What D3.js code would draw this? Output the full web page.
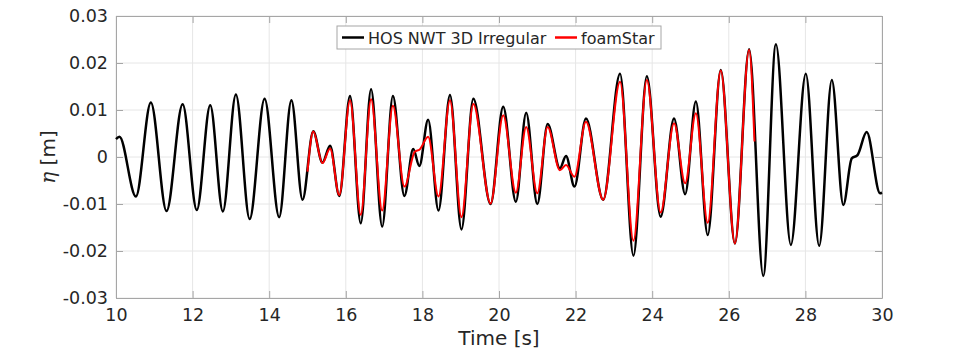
<!DOCTYPE html>
<html lang="en">
  <head>
    <meta charset="utf-8">
    <title>HOS NWT vs foamStar</title>
    <script type="text/javascript" src="https://cdnjs.cloudflare.com/ajax/libs/d3/7.8.5/d3.min.js"></script>
    <style>
      body { margin: 0; background: #fff; }
      text { font-family: "DejaVu Sans", sans-serif; fill: #262626; }
    </style>
  </head>
  <body>
    <div id="chartDiv"></div>
    <script>
      // HOS NWT 3D Irregular: extrema (time [s], eta [m])
      var hosTime = [10.0, 10.09, 10.52, 10.91, 11.32, 11.74, 12.11, 12.46, 12.79, 13.13, 13.49, 13.88, 14.26, 14.58,
                     14.87, 15.15, 15.39, 15.59, 15.83, 16.11, 16.39, 16.66, 16.95, 17.23, 17.53, 17.76, 17.92, 18.15,
                     18.42, 18.72, 19.02, 19.33, 19.78, 20.11, 20.44, 20.71, 21.0, 21.27, 21.59, 21.75, 21.97, 22.27,
                     22.72, 23.16, 23.51, 23.86, 24.22, 24.57, 24.86, 25.14, 25.45, 25.79, 26.16, 26.53, 26.9, 27.23,
                     27.62, 28.01, 28.36, 28.69, 28.99, 29.21, 29.36, 29.6, 29.95, 30.0];
      var hosEta = [0.0038, 0.0043, -0.0084, 0.0116, -0.0115, 0.0112, -0.0113, 0.011, -0.0116, 0.0133, -0.0132, 0.0124, -0.0128, 0.0121,
                    -0.0091, 0.0055, -0.0012, 0.0024, -0.0083, 0.013, -0.0141, 0.0144, -0.0148, 0.013, -0.0083, 0.0017, -0.0019, 0.0079,
                    -0.0114, 0.0132, -0.0154, 0.0124, -0.01, 0.0107, -0.0095, 0.0094, -0.01, 0.007, -0.0024, 0.0002, -0.0063, 0.0082,
                    -0.0091, 0.0177, -0.021, 0.0172, -0.0127, 0.0082, -0.0079, 0.0118, -0.0166, 0.0185, -0.0184, 0.0229, -0.0253, 0.024,
                    -0.0187, 0.0177, -0.0189, 0.0164, -0.0102, -0.0003, 0.0004, 0.0053, -0.0077, -0.0076];

      // foamStar
      var foamTime = [15.0, 15.15, 15.39, 15.59, 15.83, 16.11, 16.39, 16.66, 16.95, 17.23, 17.53, 17.8, 17.93, 18.15,
                      18.42, 18.72, 19.02, 19.33, 19.78, 20.11, 20.44, 20.71, 21.0, 21.27, 21.59, 21.75, 21.97, 22.27,
                      22.72, 23.16, 23.51, 23.86, 24.22, 24.57, 24.86, 25.14, 25.45, 25.79, 26.16, 26.53, 26.67];
      var foamEta = [-0.0031, 0.0054, -0.0013, 0.0018, -0.0081, 0.0121, -0.0123, 0.0123, -0.0114, 0.0109, -0.0063, 0.0011, 0.0016, 0.0043,
                     -0.0084, 0.0121, -0.0128, 0.0113, -0.0099, 0.0089, -0.0076, 0.0064, -0.0077, 0.0064, -0.0028, -0.0017, -0.0042, 0.0075,
                     -0.0091, 0.016, -0.0178, 0.0164, -0.0118, 0.0072, -0.0056, 0.0093, -0.014, 0.0184, -0.0184, 0.0228, 0.0033];

      var xTicks = [10, 12, 14, 16, 18, 20, 22, 24, 26, 28, 30];
      var yTicks = [-0.03, -0.02, -0.01, 0, 0.01, 0.02, 0.03];
      var seriesNames = ["HOS NWT 3D Irregular", "foamStar"];
      var seriesColors = ["#000000", "#ff0000"];

      var chartWd = 976, chartHt = 350;
      var padL = 116, padR = 882, padT = 16, padB = 298;

      var xScale = d3.scaleLinear().domain([10, 30]).range([padL, padR]);
      var yScale = d3.scaleLinear().domain([-0.03, 0.03]).range([padB, padT]);

      var svg = d3.select("#chartDiv")
          .append("svg")
          .attr("width", chartWd)
          .attr("height", chartHt);

      // grid
      svg.append("g")
         .selectAll("line")
         .data(xTicks)
         .enter()
         .append("line")
         .attr("x1", function(d) { return xScale(d); })
         .attr("x2", function(d) { return xScale(d); })
         .attr("y1", padT).attr("y2", padB)
         .attr("stroke", "#e6e6e6").attr("stroke-width", 1);

      svg.append("g")
         .selectAll("line")
         .data(yTicks)
         .enter()
         .append("line")
         .attr("y1", function(d) { return yScale(d); })
         .attr("y2", function(d) { return yScale(d); })
         .attr("x1", padL).attr("x2", padR)
         .attr("stroke", "#e6e6e6").attr("stroke-width", 1);

      var fmt = function(d) { return d === 0 ? "0" : d3.format(".2f")(d).replace("−", "-"); };

      var xAxis = d3.axisBottom(xScale).tickValues(xTicks).tickSizeInner(-7).tickSizeOuter(0).tickPadding(11);
      var xAxisTop = d3.axisTop(xScale).tickValues(xTicks).tickSizeInner(-7).tickSizeOuter(0).tickFormat("");
      var yAxis = d3.axisLeft(yScale).tickValues(yTicks).tickSizeInner(-7).tickSizeOuter(0).tickPadding(8).tickFormat(fmt);
      var yAxisRight = d3.axisRight(yScale).tickValues(yTicks).tickSizeInner(-7).tickSizeOuter(0).tickFormat("");

      var axes = [
        [xAxis, "translate(0," + padB + ")"],
        [xAxisTop, "translate(0," + padT + ")"],
        [yAxis, "translate(" + padL + ",0)"],
        [yAxisRight, "translate(" + padR + ",0)"]
      ];
      axes.forEach(function(a) {
        var g = svg.append("g").attr("transform", a[1]).call(a[0]);
        g.select(".domain").attr("stroke", "#a6a6a6");
        g.selectAll(".tick line").attr("stroke", "#a6a6a6");
        g.selectAll(".tick text")
         .attr("font-family", "DejaVu Sans, sans-serif")
         .attr("font-size", "17.5px")
         .attr("fill", "#262626");
      });

      // series
      var line = d3.line()
          .x(function(d) { return xScale(d[0]); })
          .y(function(d) { return yScale(d[1]); })
          .curve(d3.curveMonotoneX);

      var hosData = hosTime.map(function(t, i) { return [t, hosEta[i]]; });
      var foamData = foamTime.map(function(t, i) { return [t, foamEta[i]]; });

      svg.append("path")
         .datum(hosData)
         .attr("d", line)
         .attr("fill", "none")
         .attr("stroke", seriesColors[0])
         .attr("stroke-width", 2.5);

      svg.append("path")
         .datum(foamData)
         .attr("d", line)
         .attr("fill", "none")
         .attr("stroke", seriesColors[1])
         .attr("stroke-width", 2);

      // axis labels
      svg.append("text")
         .attr("x", (padL + padR) / 2)
         .attr("y", 345)
         .attr("text-anchor", "middle")
         .attr("font-size", "20px")
         .text("Time [s]");

      var yl = svg.append("text")
         .attr("transform", "translate(55," + yScale(0) + ") rotate(-90)")
         .attr("text-anchor", "middle")
         .attr("font-size", "20px");
      yl.append("tspan").attr("font-family", "DejaVu Serif, serif").attr("font-style", "italic").text("η");
      yl.append("tspan").text(" [m]");

      // legend
      var lg = svg.append("g");
      lg.append("rect")
        .attr("x", 337).attr("y", 26).attr("width", 324).attr("height", 23)
        .attr("fill", "#fff").attr("stroke", "#a6a6a6");
      var legendX = [342, 555];
      seriesNames.forEach(function(name, i) {
        lg.append("line")
          .attr("x1", legendX[i]).attr("x2", legendX[i] + 22)
          .attr("y1", 37.5).attr("y2", 37.5)
          .attr("stroke", seriesColors[i]).attr("stroke-width", 2.5);
        lg.append("text")
          .attr("x", legendX[i] + 26).attr("y", 43.5)
          .attr("font-size", "16px")
          .text(name);
      });
    </script>
  </body>
</html>
